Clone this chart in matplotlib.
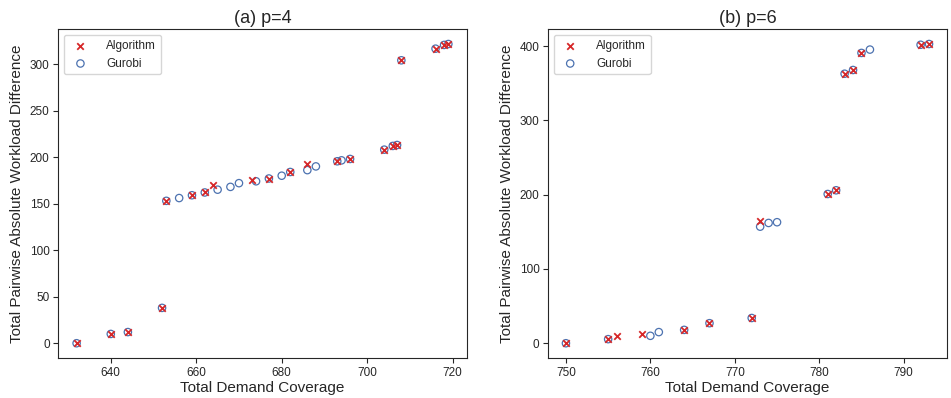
import matplotlib.pyplot as plt
import seaborn as sns
from matplotlib.ticker import MultipleLocator

# (a) p=4
alg4_x = [632, 640, 644, 652, 653, 659, 662, 664, 673, 677, 682, 686, 693, 696,
          704, 706, 707, 708, 716, 718, 719]
alg4_y = [0, 10, 12, 38, 153, 159, 162, 170.5, 175, 177, 184, 192.5, 195.5, 198,
          208, 212, 213, 304, 316.5, 320.5, 321.5]
gur4_x = [632, 640, 644, 652, 653, 656, 659, 662, 665, 668, 670, 674, 677, 680,
          682, 686, 688, 693, 694, 696, 704, 706, 707, 708, 716, 718, 719]
gur4_y = [0, 10, 12, 38, 153, 156, 159, 162, 165, 168, 172, 174, 177, 180,
          184, 186, 190, 195.5, 196.5, 198, 208, 212, 213, 304, 316.5, 320.5, 321.5]

# (b) p=6
alg6_x = [750, 755, 756, 759, 764, 767, 772, 773, 781, 782, 783, 784, 785, 792, 793]
alg6_y = [0, 5.5, 10, 13, 18, 27, 34, 164, 201, 206, 363, 368, 391, 402, 403]
gur6_x = [750, 755, 760, 761, 764, 767, 772, 773, 774, 775, 781, 782, 783, 784,
          785, 786, 792, 793]
gur6_y = [0, 5.5, 10, 15, 18, 27, 34, 157, 162, 163, 201, 206, 363, 368,
          391, 395.5, 402, 403]

panels = [
    ("(a) p=4", alg4_x, alg4_y, gur4_x, gur4_y, 50),
    ("(b) p=6", alg6_x, alg6_y, gur6_x, gur6_y, 100),
]

sns.set_style("ticks")
plt.rcParams["font.family"] = ["Liberation Sans", "DejaVu Sans"]

fig = plt.figure(figsize=(9.51, 3.98), dpi=100)
positions = [[0.061, 0.100, 0.430, 0.827], [0.576, 0.100, 0.420, 0.827]]

for pos, (title, ax_x, ax_y, gx, gy, ystep) in zip(positions, panels):
    ax = fig.add_axes(pos)
    ax.scatter(ax_x, ax_y, marker="x", color="#d62728", s=22, linewidths=1.3,
               label="Algorithm", zorder=3)
    ax.scatter(gx, gy, marker="o", facecolors="none", edgecolors="#4C72B0",
               s=28, linewidths=0.9, label="Gurobi", zorder=2)
    ax.yaxis.set_major_locator(MultipleLocator(ystep))
    ax.set_title(title, fontsize=13, pad=4)
    ax.set_xlabel("Total Demand Coverage", fontsize=11, labelpad=2)
    ax.set_ylabel("Total Pairwise Absolute Workload Difference", fontsize=11,
                  labelpad=4)
    ax.tick_params(labelsize=8.5, length=3.5, pad=2.5)
    ax.legend(loc="upper left", fontsize=8.5, handletextpad=1.2)

fig.savefig("out.png", dpi=100)
